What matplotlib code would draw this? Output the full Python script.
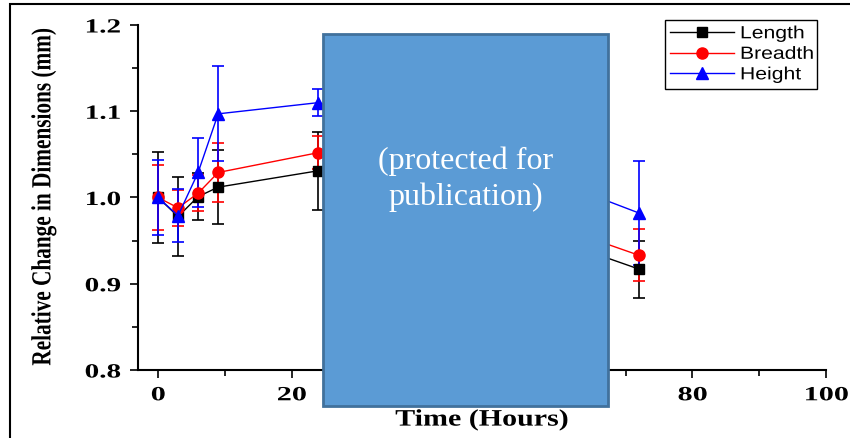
import matplotlib
matplotlib.use("Agg")
import matplotlib.pyplot as plt
from matplotlib.patches import Rectangle
from matplotlib.lines import Line2D
from matplotlib.path import Path
from matplotlib.patheffects import AbstractPathEffect
from matplotlib.ticker import MultipleLocator

# ---- data ----
hours = [0, 3, 6, 9, 24, 48, 72]
length_vals = [1.000, 0.978, 1.001, 1.012, 1.031, 0.982, 0.917]
length_err = [0.053, 0.046, 0.027, 0.043, 0.045, 0.030, 0.033]
breadth_vals = [1.000, 0.988, 1.005, 1.029, 1.052, 0.998, 0.933]
breadth_err = [0.038, 0.021, 0.021, 0.034, 0.019, 0.030, 0.030]
height_vals = [1.000, 0.979, 1.029, 1.097, 1.110, 1.053, 0.982]
height_err = [0.043, 0.031, 0.040, 0.055, 0.016, 0.040, 0.060]
series_names = ["Length", "Breadth", "Height"]
x_ticks = [0, 20, 40, 60, 80, 100]
y_ticks = [0.8, 0.9, 1.0, 1.1, 1.2]
mask_text = "(protected for\npublication)"


class Stretch(AbstractPathEffect):
    """Stretch glyph outlines (the reference text looks horizontally widened)."""

    def __init__(self, sx=1.0, sy=1.0, anchor="center"):
        super().__init__()
        self.sx, self.sy, self.anchor = sx, sy, anchor

    def draw_path(self, renderer, gc, tpath, affine, rgbFace=None):
        v = tpath.vertices.copy()
        if len(v):
            xmin, xmax = v[:, 0].min(), v[:, 0].max()
            ymin, ymax = v[:, 1].min(), v[:, 1].max()
            if self.anchor == "left":
                a0 = xmin
            elif self.anchor == "right":
                a0 = xmax
            else:
                a0 = 0.5 * (xmin + xmax)
            v[:, 0] = a0 + (v[:, 0] - a0) * self.sx
            b0 = 0.5 * (ymin + ymax)
            v[:, 1] = b0 + (v[:, 1] - b0) * self.sy
        renderer.draw_path(gc, Path(v, tpath.codes), affine, rgbFace)


W, H = 850, 439
fig = plt.figure(figsize=(W / 100, H / 100), dpi=100)
ax = fig.add_axes([138 / W, 1 - 371 / H, (826 - 138) / W, (371 - 26) / H])

serif = "Liberation Serif"
styles = [("black", "s", 7), ("red", "o", 8), ("blue", "^", 9)]
data = [(length_vals, length_err), (breadth_vals, breadth_err), (height_vals, height_err)]
handles = []
for name, (vals, errs), (col, mk, ms) in zip(series_names, data, styles):
    ax.errorbar(hours, vals, yerr=errs, color=col, marker=mk, markersize=ms,
                linewidth=1, elinewidth=1.2, capsize=4, capthick=1.2, ecolor=col)
    handles.append(Line2D([], [], color=col, marker=mk, markersize=ms, linewidth=1, label=name))

ax.set_xlim(-3, 100)
ax.set_ylim(0.8, 1.2)
ax.set_xticks(x_ticks, labels=[str(v) for v in x_ticks])
ax.set_yticks(y_ticks, labels=[f"{v:.1f}" for v in y_ticks])
ax.xaxis.set_minor_locator(MultipleLocator(10))
ax.yaxis.set_minor_locator(MultipleLocator(0.05))
ax.tick_params(which="major", direction="out", length=6, width=1.2)
ax.tick_params(which="minor", direction="out", length=4.5, width=1.2)
ax.tick_params(axis="both", which="major", labelsize=14.5)
ax.tick_params(axis="y", which="major", pad=6.5)
ax.tick_params(axis="x", which="major", pad=5)
for t in ax.xaxis.get_major_ticks():
    t.label1.set_fontfamily(serif)
    t.label1.set_fontweight("bold")
    t.label1.set_path_effects([Stretch(sx=1.5)])
for t in ax.yaxis.get_major_ticks():
    t.label1.set_fontfamily(serif)
    t.label1.set_fontweight("bold")
    t.label1.set_path_effects([Stretch(sx=1.45, anchor="right")])
for s in ["top", "right"]:
    ax.spines[s].set_visible(False)
for s in ["left", "bottom"]:
    ax.spines[s].set_linewidth(1.5)

xl = ax.set_xlabel("Time (Hours)", fontfamily=serif, fontweight="bold", fontsize=17, labelpad=3)
xl.set_path_effects([Stretch(sx=1.27)])
yl = ax.set_ylabel("Relative Change in Dimensions (mm)", fontfamily=serif,
                   fontweight="bold", fontsize=15.3, labelpad=30)
yl.set_path_effects([Stretch(sy=1.3)])

leg = ax.legend(handles=handles, loc="upper left",
                bbox_to_anchor=(665 / W, 1 - 81 / H, (817 - 665) / W, (81 - 21) / H),
                bbox_transform=fig.transFigure, mode="expand",
                prop={"family": "Liberation Sans", "size": 12.7},
                frameon=True, fancybox=False, edgecolor="black", framealpha=1,
                handlelength=3.6, labelspacing=0.2, borderpad=0.3, handletextpad=0.35,
                borderaxespad=0)
leg.get_frame().set_linewidth(1)
for txt in leg.get_texts():
    txt.set_path_effects([Stretch(sx=1.2, anchor="left")])

# masking box
fig.patches.append(Rectangle((323 / W, 1 - 407 / H), (608 - 323) / W, (407 - 35) / H,
                             transform=fig.transFigure, facecolor="#5B9BD5",
                             edgecolor="#41719C", linewidth=2, zorder=10))
fig.text(466 / W, 1 - 179 / H, mask_text, ha="center", va="center", color="white",
         fontfamily=serif, fontsize=23, zorder=11, linespacing=1.3)

# figure border
fig.patches.append(Rectangle((10 / W, -0.1), 1.2, (439 - 5) / H + 0.1,
                             transform=fig.transFigure, facecolor="none",
                             edgecolor="black", linewidth=1.5, zorder=12))

fig.savefig("out.png", dpi=100)
